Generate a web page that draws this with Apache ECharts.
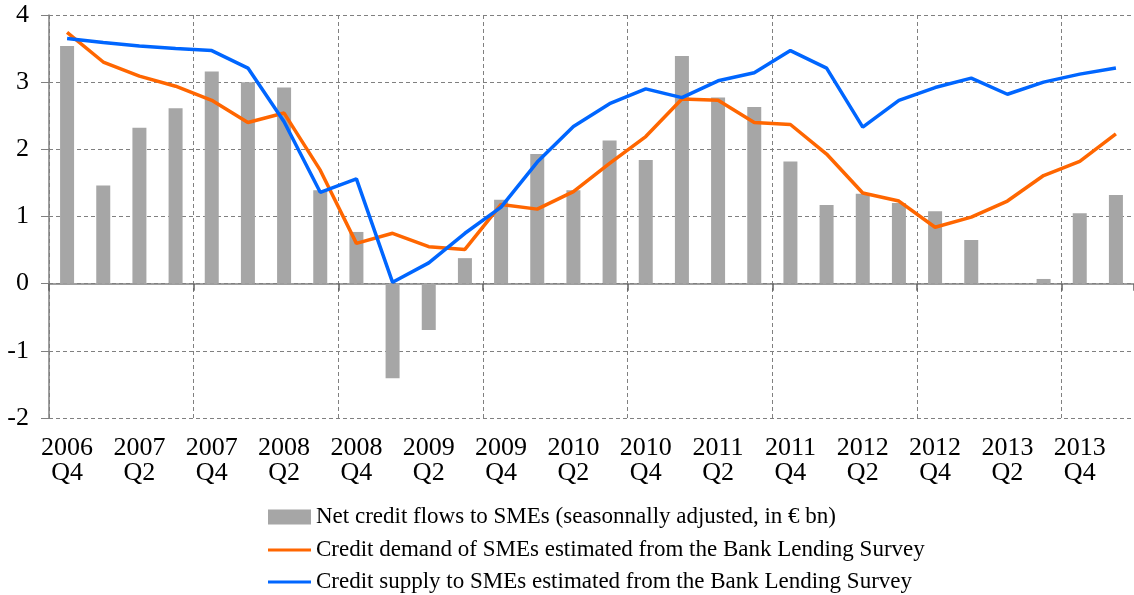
<!DOCTYPE html>
<html>
<head>
<meta charset="utf-8">
<script src="https://cdn.jsdelivr.net/npm/echarts@6/dist/echarts.min.js"></script>
<style>
html,body{margin:0;padding:0;background:#fff;}
#chart{width:1134px;height:595px;}
</style>
</head>
<body>
<div id="chart"></div>
<script>
const categories = [
  '2006\nQ4','2007\nQ1','2007\nQ2','2007\nQ3','2007\nQ4','2008\nQ1','2008\nQ2','2008\nQ3',
  '2008\nQ4','2009\nQ1','2009\nQ2','2009\nQ3','2009\nQ4','2010\nQ1','2010\nQ2','2010\nQ3',
  '2010\nQ4','2011\nQ1','2011\nQ2','2011\nQ3','2011\nQ4','2012\nQ1','2012\nQ2','2012\nQ3',
  '2012\nQ4','2013\nQ1','2013\nQ2','2013\nQ3','2013\nQ4','2014\nQ1'
];
const netFlows = [3.54,1.46,2.32,2.61,3.16,3.00,2.92,1.39,0.77,-1.41,-0.69,0.38,1.25,1.93,1.39,2.13,
  1.84,3.39,2.77,2.63,1.82,1.17,1.34,1.20,1.08,0.65,-0.02,0.07,1.05,1.32];
const demand = [3.74,3.30,3.09,2.94,2.73,2.40,2.54,1.69,0.60,0.75,0.55,0.51,1.18,1.11,1.37,1.79,
  2.19,2.75,2.73,2.40,2.37,1.93,1.35,1.23,0.84,0.99,1.23,1.61,1.82,2.23];
const supply = [3.65,3.59,3.54,3.50,3.47,3.21,2.41,1.36,1.56,0.02,0.31,0.75,1.14,1.81,2.34,2.68,
  2.90,2.77,3.02,3.14,3.47,3.21,2.33,2.73,2.92,3.06,2.82,3.00,3.12,3.21];
const seriesNames = [
  'Net credit flows to SMEs (seasonnally adjusted, in € bn)',
  'Credit demand of SMEs estimated from the Bank Lending Survey',
  'Credit supply to SMEs estimated from the Bank Lending Survey'
];

const FONT = "'Liberation Serif','Times New Roman',serif";
function legendAt(name, top, h) {
  return {
    orient: 'vertical', left: 263, top: top,
    itemWidth: 43, itemHeight: h, itemGap: 0,
    textStyle: { fontFamily: FONT, fontSize: 23, color: '#000', lineHeight: 26 },
    data: [{ name: name, icon: 'rect' }]
  };
}
const chart = echarts.init(document.getElementById('chart'));
chart.setOption({
  animation: false,
  backgroundColor: '#ffffff',
  textStyle: { fontFamily: FONT, color: '#000' },
  grid: { left: 49, right: 0, top: 15, bottom: 177 },
  xAxis: [{
    type: 'category',
    data: categories,
    boundaryGap: true,
    position: 'bottom',
    axisLine: { show: false, onZero: false },
    axisTick: { show: false },
    axisLabel: { interval: 1, fontFamily: FONT, fontSize: 26, lineHeight: 25, color: '#000', margin: 18 },
    splitLine: { show: true, interval: 3, lineStyle: { color: '#808080', type: [4, 3], width: 1 } }
  }, {
    type: 'category',
    data: categories,
    boundaryGap: true,
    position: 'bottom',
    axisLine: { show: true, onZero: true, lineStyle: { color: '#808080', width: 1.5 } },
    axisTick: { show: true, interval: 3, inside: false, length: 7, lineStyle: { color: '#606060', width: 1.5 } },
    axisLabel: { show: false },
    splitLine: { show: false }
  }],
  yAxis: {
    type: 'value',
    min: -2, max: 4, interval: 1,
    axisLine: { show: true, lineStyle: { color: '#808080', width: 1.5 } },
    axisTick: { show: true, length: 8, lineStyle: { color: '#808080' } },
    axisLabel: { fontFamily: FONT, fontSize: 26, color: '#000', margin: 20 },
    splitLine: { show: true, lineStyle: { color: '#808080', type: [4, 3], width: 1 } }
  },
  legend: [
    legendAt(seriesNames[0], 499, 15),
    legendAt(seriesNames[1], 532, 3),
    legendAt(seriesNames[2], 564, 3)
  ],
  series: [{
    name: seriesNames[0],
    type: 'bar',
    xAxisIndex: 0,
    data: netFlows,
    barWidth: 14,
    itemStyle: { color: '#a6a6a6' }
  }, {
    name: seriesNames[1],
    type: 'line',
    xAxisIndex: 0,
    data: demand,
    symbol: 'none',
    lineStyle: { color: '#ff6600', width: 3.5 },
    itemStyle: { color: '#ff6600' }
  }, {
    name: seriesNames[2],
    type: 'line',
    xAxisIndex: 0,
    data: supply,
    symbol: 'none',
    lineStyle: { color: '#0066ff', width: 3.5 },
    itemStyle: { color: '#0066ff' }
  }]
});
</script>
</body>
</html>
